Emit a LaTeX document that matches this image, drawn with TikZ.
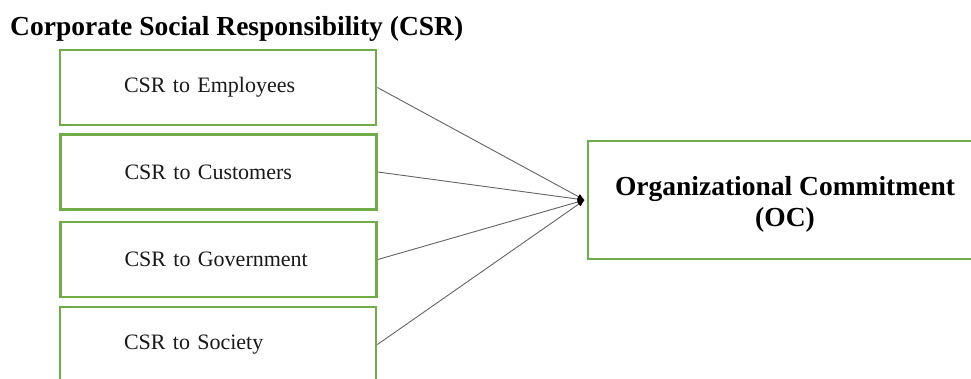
\documentclass[tikz,border=0pt]{standalone}
\usepackage{fontspec}
\setmainfont{Liberation Serif}
\usetikzlibrary{arrows.meta}
\definecolor{boxgreen}{RGB}{112,173,71}
\definecolor{linegray}{RGB}{100,100,100}
\begin{document}
\begin{tikzpicture}[x=1pt,y=-1pt,
  csrbox/.style={draw=boxgreen, line width=2.8pt, fill=white, text width=188pt, inner xsep=64pt, align=left, minimum height=75pt, font=\fontsize{22}{26}\selectfont, text=black!90},
  ocbox/.style={draw=boxgreen, line width=2.8pt, fill=white, minimum width=394pt, minimum height=118pt},
  octext/.style={align=center, inner sep=0pt, font=\fontsize{27.5}{31}\selectfont\bfseries},
  conn/.style={draw=linegray, line width=0.9pt, -{Latex[length=7pt,width=6pt,fill=black,color=black]}}]
\useasboundingbox (0,0) rectangle (971,379);
\clip (0,0) rectangle (971,379);
\fill[white] (0,0) rectangle (971,379);
\node[anchor=base west, inner sep=0pt, font=\fontsize{27.5}{32}\selectfont\bfseries] (title) at (10,36) {Corporate Social Responsibility (CSR)};
\node[csrbox] (emp) at (218,87.5) {\raisebox{-2pt}{CSR to Employees}};
\node[csrbox] (cus) at (218.5,172) {\raisebox{-2pt}{CSR to Customers}};
\node[csrbox] (gov) at (218.5,259.5) {\raisebox{-2pt}{CSR to Government}};
\node[csrbox] (soc) at (218,344.5) {\raisebox{-2pt}{CSR to Society}};
\node[ocbox] (oc) at (785,200) {};
\node[octext] (octxt) at (785,204) {Organizational Commitment\\(OC)};
\coordinate (tip) at ([xshift=-2pt]oc.west);
\draw[conn] (emp.east) -- (tip);
\draw[conn] (cus.east) -- (tip);
\draw[conn] (gov.east) -- (tip);
\draw[conn] (soc.east) -- (tip);
\end{tikzpicture}
\end{document}
